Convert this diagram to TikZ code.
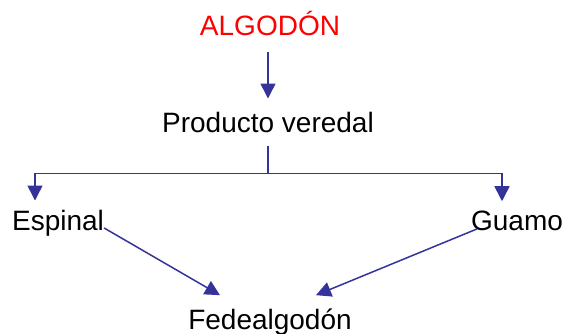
\documentclass[tikz,border=0pt]{standalone}
\usepackage{fontspec}
\setmainfont{Liberation Sans}
\usetikzlibrary{arrows.meta,calc}

\definecolor{flowblue}{RGB}{51,51,153}
\definecolor{titlered}{RGB}{255,0,0}

\tikzset{
    % Text styles
    place/.style={font=\fontsize{28}{32}\selectfont, inner sep=0pt, anchor=base},
    title place/.style={place, text=titlered},
    % Connector style
    link/.style={-{Triangle[length=15pt,width=15pt]}, line width=1.5pt, flowblue},
    plain link/.style={line width=1.5pt, flowblue},
}

\begin{document}
\begin{tikzpicture}[x=1pt,y=-1pt]
    % Frame
    \useasboundingbox (0,0) rectangle (566,334);

    % Places
    \node[title place] (alg) at (270,36) {ALGODÓN};
    \node[place] (prod) at (268,133) {Producto veredal};
    \node[place] (esp) at (58,231) {Espinal};
    \node[place] (gua) at (517,231) {Guamo};
    \node[place] (fed) at (270,330) {Fedealgodón};

    % Top arrow
    \draw[link] ([xshift=-2pt,yshift=-16pt]alg.south) -- ([yshift=14pt]prod.north);

    % Split to the two towns
    \coordinate (fork) at ([yshift=-40pt]prod.south);
    \draw[plain link] ([yshift=-13pt]prod.south) -- (fork);
    \draw[link] (fork) -| ([xshift=-23pt,yshift=10pt]esp.north);
    \draw[link] (fork) -| ([xshift=-15pt,yshift=10pt]gua.north);

    % Towns to Fedealgodón
    \draw[link] ([yshift=3pt]esp.base east) -- ([xshift=-50pt,yshift=14pt]fed.north);
    \draw[link] ([xshift=6pt,yshift=2pt]gua.base west) -- ([xshift=46pt,yshift=14pt]fed.north);
\end{tikzpicture}
\end{document}
